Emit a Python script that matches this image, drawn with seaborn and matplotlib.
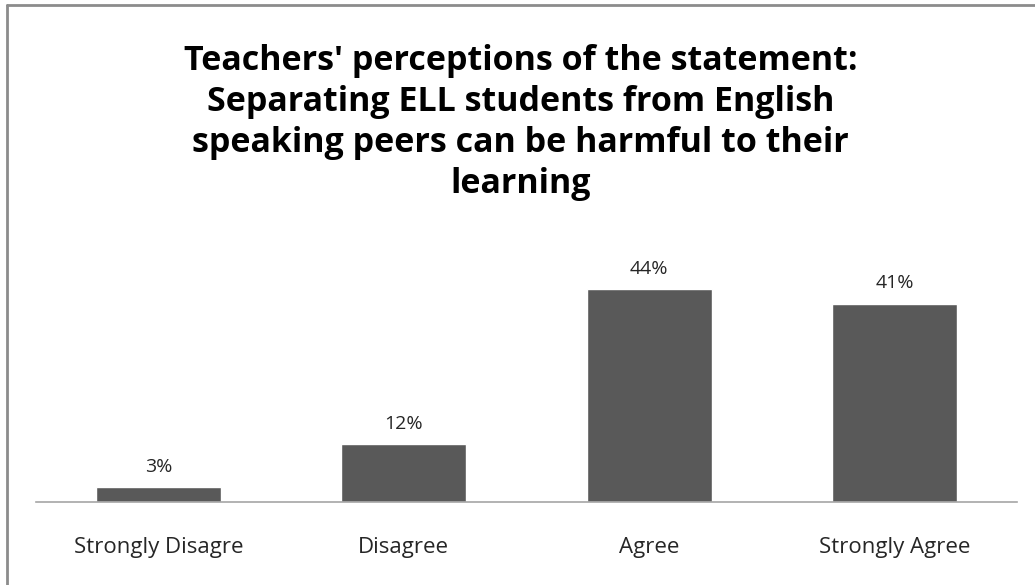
import matplotlib
matplotlib.use("Agg")
import matplotlib.pyplot as plt
import seaborn as sns
import pandas as pd

# chart data
categories = ["Strongly Disagre", "Disagree", "Agree", "Strongly Agree"]
percentages = [3, 12, 44, 41]
value_labels = ["3%", "12%", "44%", "41%"]
title_lines = ["Teachers' perceptions of the statement:",
               "Separating ELL students from English",
               "speaking peers can be harmful to their",
               "learning"]

df = pd.DataFrame({"response": categories, "pct": percentages})

sns.set_theme(style="white")
plt.rcParams["font.family"] = ["Open Sans", "DejaVu Sans"]

W, H = 1035, 585
fig = plt.figure(figsize=(W / 100, H / 100), dpi=100)
ax = fig.add_axes([36 / W, (H - 502) / H, 981 / W, 242 / H])

sns.barplot(data=df, x="response", y="pct", color="#595959",
            saturation=1, width=0.51, ax=ax)

# value labels above bars
for bar, lab in zip(ax.patches, value_labels):
    ax.annotate(lab, (bar.get_x() + bar.get_width() / 2, bar.get_height()),
                xytext=(0, 8), textcoords="offset points",
                ha="center", va="bottom", fontsize=14, color="#262626")

ax.set_xlim(-0.5, 3.5)
ax.set_ylim(0, 50)
ax.set_xlabel("")
ax.set_ylabel("")
ax.set_yticks([])
ax.tick_params(axis="x", length=0, pad=25, labelsize=16, colors="#262626")

for side in ["top", "right", "left"]:
    ax.spines[side].set_visible(False)
ax.spines["bottom"].set_color("#a6a6a6")
ax.spines["bottom"].set_linewidth(1.2)

# title, one line at a time (baselines in pixels from top)
for i, line in enumerate(title_lines):
    y_px = 70 + i * 41
    fig.text(0.503, (H - y_px) / H, line, ha="center", va="baseline",
             fontsize=24.5, fontweight="bold", color="black")

# outer chart frame (top and left edges visible)
fig.add_artist(plt.Line2D([7 / W, 1.0], [(H - 5) / H, (H - 5) / H],
                          transform=fig.transFigure, color="#8c8c8c", linewidth=2))
fig.add_artist(plt.Line2D([7 / W, 7 / W], [0.0, (H - 5) / H],
                          transform=fig.transFigure, color="#8c8c8c", linewidth=2))

fig.savefig("out.png", dpi=100)
